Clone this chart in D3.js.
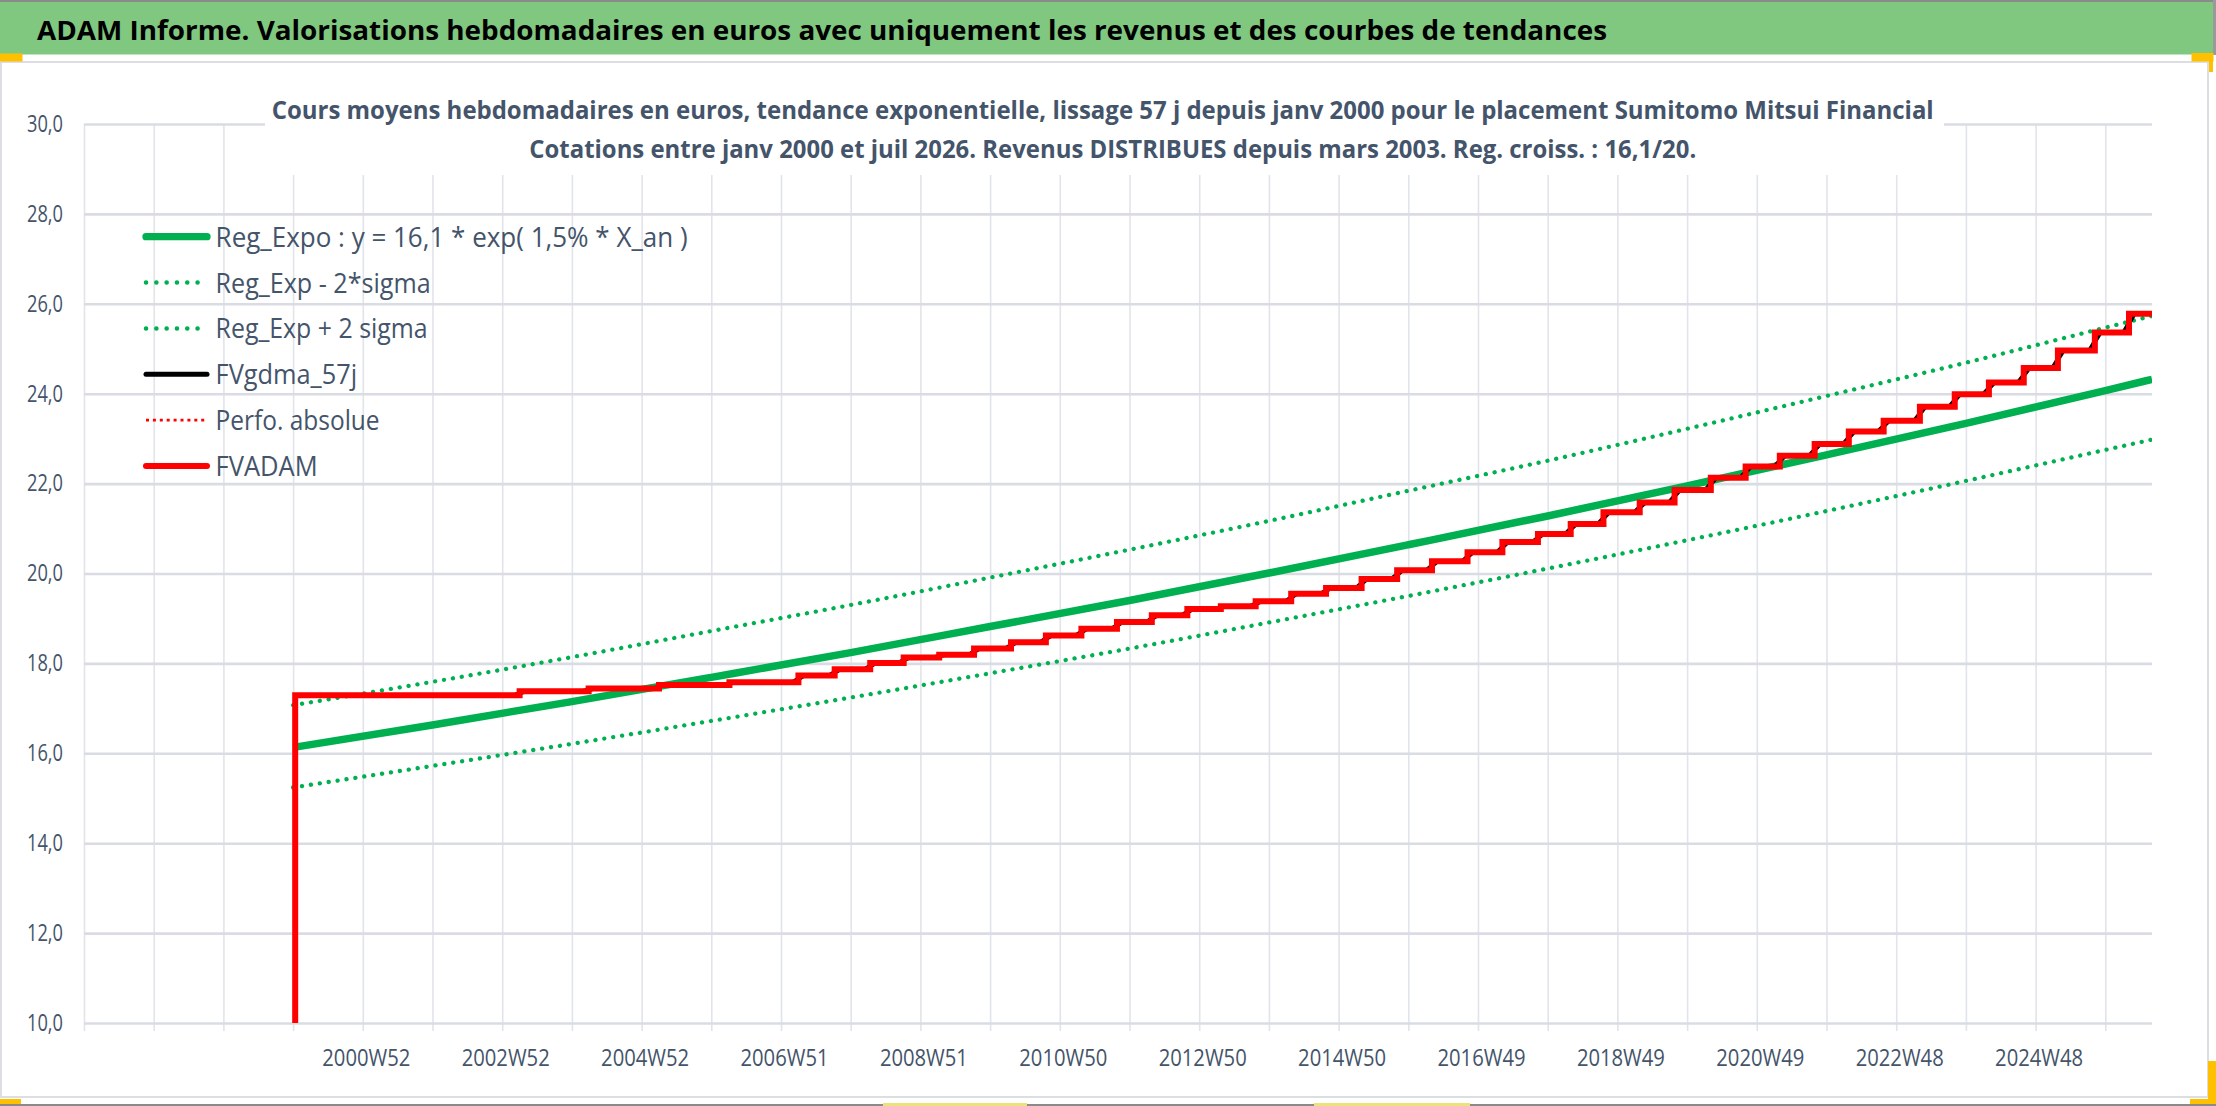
<!DOCTYPE html>
<html>
<head>
<meta charset="utf-8">
<script src="https://cdn.jsdelivr.net/npm/d3@7"></script>
<style>
  body { margin: 0; background: #fff; }
  text { font-family: "Open Sans", sans-serif; }
</style>
</head>
<body>
<svg id="chart" width="2216" height="1106"></svg>
<script>
// values (x in years, y in euros)
var regYears = [2000, 2002, 2004, 2006, 2008, 2010, 2012, 2014, 2016, 2018, 2020, 2022, 2024, 2026, 2026.67];
var regExpo  = [16.13, 16.63, 17.15, 17.69, 18.24, 18.82, 19.40, 20.01, 20.64, 21.28, 21.95, 22.64, 23.34, 24.07, 24.32];
var regLow   = [15.24, 15.72, 16.21, 16.72, 17.24, 17.78, 18.33, 18.91, 19.50, 20.11, 20.74, 21.39, 22.06, 22.75, 22.98];
var regHigh  = [17.07, 17.59, 18.14, 18.72, 19.30, 19.91, 20.53, 21.17, 21.84, 22.51, 23.22, 23.95, 24.69, 25.47, 25.73];

// FVADAM : one level per distribution date
var fvYears  = [2000.03, 2003.25, 2004.24, 2005.25, 2006.26, 2007.25, 2007.77, 2008.28, 2008.76, 2009.27,
                2009.77, 2010.30, 2010.80, 2011.31, 2011.82, 2012.32, 2012.83, 2013.31, 2013.81, 2014.32,
                2014.82, 2015.33, 2015.84, 2016.34, 2016.85, 2017.35, 2017.86, 2018.33, 2018.80, 2019.32,
                2019.82, 2020.34, 2020.84, 2021.33, 2021.83, 2022.32, 2022.82, 2023.34, 2023.84, 2024.33,
                2024.83, 2025.32, 2025.85, 2026.34, 2026.67];
var fvValues = [17.29, 17.38, 17.44, 17.52, 17.58, 17.73, 17.87, 18.01, 18.13, 18.19,
                18.33, 18.47, 18.62, 18.77, 18.92, 19.07, 19.21, 19.27, 19.38, 19.55,
                19.68, 19.88, 20.07, 20.27, 20.47, 20.70, 20.88, 21.10, 21.36, 21.58,
                21.86, 22.13, 22.38, 22.62, 22.88, 23.16, 23.40, 23.71, 23.99, 24.25,
                24.57, 24.96, 25.36, 25.78, 25.78];
var fvStartValue = 10;
var lissageJours = 57;

var yTicks = [10, 12, 14, 16, 18, 20, 22, 24, 26, 28, 30];
var xGridYears = [1997, 1998, 1999, 2000, 2001, 2002, 2003, 2004, 2005, 2006, 2007, 2008, 2009, 2010, 2011,
                  2012, 2013, 2014, 2015, 2016, 2017, 2018, 2019, 2020, 2021, 2022, 2023, 2024, 2025, 2026];
var xTickYears  = [2001, 2003, 2005, 2007, 2009, 2011, 2013, 2015, 2017, 2019, 2021, 2023, 2025];
var xTickLabels = ["2000W52", "2002W52", "2004W52", "2006W51", "2008W51", "2010W50", "2012W50",
                   "2014W50", "2016W49", "2018W49", "2020W49", "2022W48", "2024W48"];

var headerText = "ADAM Informe. Valorisations hebdomadaires en euros avec uniquement les revenus et des courbes de tendances";
var titleLines = ["Cours moyens hebdomadaires en euros, tendance exponentielle, lissage 57 j depuis janv 2000 pour le placement Sumitomo Mitsui Financial",
                  "Cotations entre janv 2000 et juil 2026. Revenus DISTRIBUES depuis mars 2003. Reg. croiss. : 16,1/20."];
var legendLabels = ["Reg_Expo : y = 16,1 * exp( 1,5% *  X_an )", "Reg_Exp - 2*sigma", "Reg_Exp + 2 sigma",
                    "FVgdma_57j", "Perfo. absolue", "FVADAM"];

var svg = d3.select("#chart");
var L = 84, R = 2152, T = 124, B = 1023;
var green = "#00B050", slate = "#44546A", grid = "#D9DCE3";

// frame
svg.append("rect").attr("x", 0).attr("y", 0).attr("width", 2216).attr("height", 1106).attr("fill", "#fff");
svg.append("rect").attr("x", 0).attr("y", 0).attr("width", 2216).attr("height", 2).attr("fill", "#8a8a8a");
svg.append("rect").attr("x", 2213).attr("y", 0).attr("width", 3).attr("height", 55).attr("fill", "#9a9a9a");
svg.append("rect").attr("x", 0).attr("y", 2).attr("width", 2213).attr("height", 52.5).attr("fill", "#80C880");
svg.append("rect").attr("x", 1).attr("y", 62).attr("width", 2207).attr("height", 1035)
  .attr("fill", "#fff").attr("stroke", "#DCDEE4").attr("stroke-width", 2);
svg.append("rect").attr("x", 0).attr("y", 1104).attr("width", 2216).attr("height", 2).attr("fill", "#8a8a8a");
[[883, 144], [1314, 156]].forEach(function (b) {
  svg.append("rect").attr("x", b[0]).attr("y", 1103).attr("width", b[1]).attr("height", 3).attr("fill", "#EDE27A");
});
var orange = "#FFC000";
svg.append("rect").attr("x", 0).attr("y", 53.5).attr("width", 22.5).attr("height", 8).attr("fill", orange);
svg.append("rect").attr("x", 2191.5).attr("y", 53).attr("width", 22).attr("height", 8.5).attr("fill", orange);
svg.append("rect").attr("x", 2209).attr("y", 61).attr("width", 4).attr("height", 11).attr("fill", orange);
svg.append("rect").attr("x", 0).attr("y", 1099).attr("width", 21).attr("height", 5).attr("fill", orange);
svg.append("rect").attr("x", 2190).attr("y", 1099).attr("width", 26).attr("height", 5).attr("fill", orange);
svg.append("rect").attr("x", 2208).attr("y", 1061).attr("width", 8).attr("height", 38).attr("fill", orange);

svg.append("text").attr("x", 37).attr("y", 40)
  .attr("textLength", 1570).attr("lengthAdjust", "spacingAndGlyphs")
  .style("font-size", "26px").style("font-weight", "bold").attr("fill", "#000")
  .text(headerText);

// scales
var x = d3.scaleLinear().domain([1997, 2026.67]).range([L, R]);
var y = d3.scaleLinear().domain([10, 30]).range([B, T]);
var fr = d3.formatLocale({decimal: ",", thousands: " ", grouping: [3], currency: ["", " €"]});

// vertical grid (runs a little below the axis)
svg.append("g").attr("transform", "translate(0," + (B + 8) + ")")
  .call(d3.axisBottom(x).tickValues(xGridYears).tickFormat("").tickSizeInner(-(B + 8 - T)).tickSizeOuter(0))
  .call(function (g) { g.select(".domain").remove(); })
  .call(function (g) { g.selectAll(".tick line").attr("stroke", "#E1E4EA").attr("stroke-width", 1.6); });

// horizontal grid + y labels
svg.append("g").attr("transform", "translate(" + L + ",0)")
  .call(d3.axisLeft(y).tickValues(yTicks).tickFormat(fr.format(".1f")).tickSizeInner(-(R - L)).tickSizeOuter(0).tickPadding(21))
  .call(function (g) { g.select(".domain").remove(); })
  .call(function (g) { g.selectAll(".tick line").attr("stroke", grid).attr("stroke-width", 2.6); })
  .call(function (g) {
    g.selectAll(".tick text").attr("fill", slate).attr("font-family", null).style("font-size", "23px")
      .attr("textLength", 36).attr("lengthAdjust", "spacingAndGlyphs");
  });

// x labels
svg.append("g").attr("transform", "translate(3," + B + ")")
  .call(d3.axisBottom(x).tickValues(xTickYears).tickFormat(function (d, i) { return xTickLabels[i]; })
    .tickSize(0).tickPadding(27))
  .call(function (g) { g.select(".domain").remove(); })
  .call(function (g) {
    g.selectAll(".tick text").attr("fill", slate).attr("font-family", null).style("font-size", "23px")
      .attr("textLength", 88).attr("lengthAdjust", "spacingAndGlyphs");
  });

// chart title box (hides the grid behind it)
svg.append("rect").attr("x", 265).attr("y", 63).attr("width", 1679).attr("height", 112).attr("fill", "#fff");
svg.append("text").attr("x", 271.7).attr("y", 119.3)
  .attr("textLength", 1662).attr("lengthAdjust", "spacingAndGlyphs")
  .style("font-size", "24.5px").style("font-weight", "bold").attr("fill", slate).text(titleLines[0]);
svg.append("text").attr("x", 529.3).attr("y", 158.3)
  .attr("textLength", 1167).attr("lengthAdjust", "spacingAndGlyphs")
  .style("font-size", "24.5px").style("font-weight", "bold").attr("fill", slate).text(titleLines[1]);

// series
svg.append("clipPath").attr("id", "plot").append("rect")
  .attr("x", L).attr("y", T - 4).attr("width", R - L).attr("height", B - T + 4);
var plot = svg.append("g").attr("clip-path", "url(#plot)");

var line = d3.line().x(function (d) { return x(d[0]); }).y(function (d) { return y(d[1]); });
var smooth = d3.line().x(function (d) { return x(d[0]); }).y(function (d) { return y(d[1]); }).curve(d3.curveMonotoneX);
function pts(xs, ys) { return xs.map(function (t, i) { return [t, ys[i]]; }); }

plot.append("path").attr("d", smooth(pts(regYears, regExpo)))
  .attr("fill", "none").attr("stroke", green).attr("stroke-width", 7.5);
[regLow, regHigh].forEach(function (s) {
  plot.append("path").attr("d", smooth(pts(regYears, s)))
    .attr("fill", "none").attr("stroke", green).attr("stroke-width", 4.3)
    .attr("stroke-linecap", "round").attr("stroke-dasharray", "0.1 8.9");
});

// FVgdma_57j : the 57-day moving average of the FVADAM steps
var half = lissageJours / 2 / 365;
var gdma = [[fvYears[0], fvValues[0]]];
for (var i = 1; i < fvYears.length; i++) {
  if (fvValues[i] === fvValues[i - 1]) { gdma.push([fvYears[i], fvValues[i]]); continue; }
  gdma.push([fvYears[i] - half, fvValues[i - 1]]);
  gdma.push([fvYears[i] + half, fvValues[i]]);
}
plot.append("path").attr("d", line(gdma))
  .attr("fill", "none").attr("stroke", "#000").attr("stroke-width", 4.5);

var fv = [[fvYears[0], fvStartValue]].concat(pts(fvYears, fvValues));
plot.append("path").attr("d", line.curve(d3.curveStepAfter)(fv))
  .attr("fill", "none").attr("stroke", "#FF0000").attr("stroke-width", 6);

// legend
var legendStyles = [
  {stroke: green, w: 7.3, dash: null, cap: "round"},
  {stroke: green, w: 4.5, dash: "0.1 10.2", cap: "round"},
  {stroke: green, w: 4.5, dash: "0.1 10.2", cap: "round"},
  {stroke: "#000", w: 5, dash: null, cap: "round"},
  {stroke: "#FF0000", w: 2.7, dash: "3 3.9", cap: "butt"},
  {stroke: "#FF0000", w: 6, dash: null, cap: "round"}
];
var legendWidths = [472, 215, 212, 141.5, 164, 102];
var legend = svg.append("g");
legendLabels.forEach(function (lab, i) {
  var base = 246.7 + i * 45.85;
  var st = legendStyles[i];
  legend.append("line").attr("x1", 146).attr("x2", 207).attr("y1", base - 10).attr("y2", base - 10)
    .attr("stroke", st.stroke).attr("stroke-width", st.w).attr("stroke-linecap", st.cap)
    .attr("stroke-dasharray", st.dash);
  legend.append("text").attr("x", 215.6).attr("y", base)
    .attr("textLength", legendWidths[i]).attr("lengthAdjust", "spacingAndGlyphs")
    .style("font-size", "27px").attr("fill", slate).text(lab);
});
</script>
</body>
</html>
